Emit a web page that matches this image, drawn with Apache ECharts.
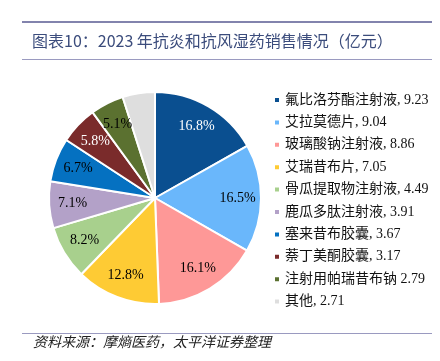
<!DOCTYPE html>
<html><head><meta charset="utf-8">
<script src="https://cdn.jsdelivr.net/npm/echarts@6/dist/echarts.min.js"></script>
<style>html,body{margin:0;padding:0;background:#fff}#c{width:440px;height:361px}</style>
</head><body><div id="c"></div>
<script>
const categories = ['氟比洛芬酯注射液','艾拉莫德片','玻璃酸钠注射液','艾瑞昔布片','骨瓜提取物注射液','鹿瓜多肽注射液','塞来昔布胶囊','萘丁美酮胶囊','注射用帕瑞昔布钠','其他'];
const values = [9.23, 9.04, 8.86, 7.05, 4.49, 3.91, 3.67, 3.17, 2.79, 2.71];
const legendSep = [', ', ', ', ', ', ', ', ', ', ', ', ', ', ', ', ' ', ', '];
const colors = ['#0a4f90','#6ab7fb','#fe9897','#fecb34','#a8d08d','#b3a1c8','#0571c1','#7a2b2b','#5b7130','#dedede'];
const labelColors = ['#fff','#000','#000','#000','#000','#000','#000','#fff','#000','#000'];
const chart = echarts.init(document.getElementById('c'));
const font = '"Liberation Serif","Noto Sans CJK SC",serif';
const pieData = categories.map((n,i)=>({name:n, value:values[i], itemStyle:{color:colors[i]}}));
const labelData = categories.map((n,i)=>({name:n, value:values[i], itemStyle:{color:'rgba(0,0,0,0)'}, label:{color:labelColors[i]}}));
chart.setOption({
  animation:false,
  graphic:[
    {type:'rect', shape:{x:22,y:21,width:410,height:2}, style:{fill:'#8283ad'}},
    {type:'text', left:32, top:33, style:{text:'图表10：2023 年抗炎和抗风湿药销售情况（亿元）', fill:'#3b4c7c', font:'16px "Noto Sans CJK SC", sans-serif'}},
    {type:'rect', shape:{x:22,y:59,width:410,height:1}, style:{fill:'#9a9ac0'}},
    {type:'rect', shape:{x:22,y:333,width:410,height:1}, style:{fill:'#9a9ac0'}},
    {type:'text', left:33, top:335, style:{text:'资料来源：摩熵医药，太平洋证券整理', fill:'#222', font:'italic 14px "Noto Sans CJK SC", sans-serif'}}
  ],
  legend:{
    orient:'vertical', left:268, top:88, itemWidth:6, itemHeight:6, itemGap:8.4, icon:'rect',
    data:categories,
    formatter:(n)=>{const i=categories.indexOf(n);return n+legendSep[i]+values[i].toFixed(2);},
    textStyle:{fontSize:14, fontFamily:font, color:'#111', padding:[0,0,0,0]}
  },
  series:[{
    type:'pie', center:[155,198], radius:[0,106], startAngle:90, clockwise:true,
    itemStyle:{borderColor:'#fff', borderWidth:2},
    label:{show:false}, labelLine:{show:false}, silent:true,
    data:pieData
  },{
    type:'pie', center:[155,198], radius:[53,106], startAngle:90, clockwise:true,
    itemStyle:{borderWidth:0},
    label:{position:'inside', formatter:(p)=>p.percent.toFixed(1)+'%', fontSize:14, fontFamily:font},
    labelLine:{show:false}, silent:true, legendHoverLink:false,
    data:labelData
  }]
});
</script></body></html>
